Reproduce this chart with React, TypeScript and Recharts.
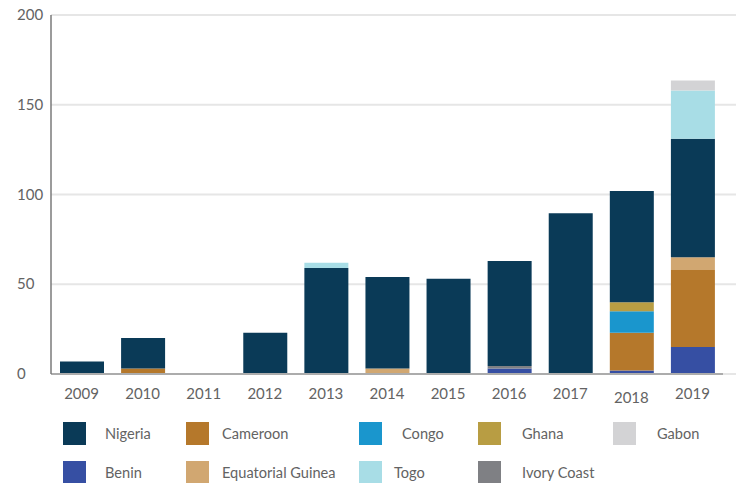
import { BarChart, Bar, XAxis, YAxis, CartesianGrid } from "recharts";

const years = ["2009", "2010", "2011", "2012", "2013", "2014", "2015", "2016", "2017", "2018", "2019"];

const benin = [0, 0, 0, 0, 0, 0, 0, 3, 0, 2, 15];
const ivoryCoast = [0, 0, 0.5, 0, 0, 0, 0, 1.5, 0, 0, 0];
const cameroon = [0, 3, 0, 0, 0, 0, 0, 0, 0, 21, 43];
const congo = [0, 0, 0, 0, 0, 0, 0, 0, 0, 12, 0];
const ghana = [0, 0, 0, 0, 0, 0, 0, 0, 0, 5, 0];
const eqGuinea = [0, 0, 0, 0, 0, 3, 0, 0, 0, 0, 7];
const nigeria = [7, 17, 0, 23, 59, 51, 53, 58.5, 89.5, 62, 66];
const togo = [0, 0, 0, 0, 3, 0, 0, 0, 0, 0, 27];
const gabon = [0, 0, 0, 0, 0, 0, 0, 0, 0, 0, 5.5];

const yTicks = [0, 50, 100, 150, 200];

// bottom-to-top stacking order
const series = [
  { key: "benin", name: "Benin", values: benin },
  { key: "ivoryCoast", name: "Ivory Coast", values: ivoryCoast },
  { key: "cameroon", name: "Cameroon", values: cameroon },
  { key: "congo", name: "Congo", values: congo },
  { key: "ghana", name: "Ghana", values: ghana },
  { key: "eqGuinea", name: "Equatorial Guinea", values: eqGuinea },
  { key: "nigeria", name: "Nigeria", values: nigeria },
  { key: "togo", name: "Togo", values: togo },
  { key: "gabon", name: "Gabon", values: gabon },
];

const colors: Record<string, string> = {
  nigeria: "#0a3a57",
  cameroon: "#b5782b",
  congo: "#1a96cd",
  ghana: "#b89d43",
  gabon: "#d3d3d5",
  benin: "#364fa3",
  eqGuinea: "#d1a771",
  togo: "#a8dde6",
  ivoryCoast: "#7f8084",
};

const legendRows = [
  ["nigeria", "cameroon", "congo", "ghana", "gabon"],
  ["benin", "eqGuinea", "togo", "ivoryCoast"],
];

const data = years.map((year, i) => {
  const row: Record<string, string | number> = { year };
  series.forEach((s) => {
    row[s.key] = s.values[i];
  });
  return row;
});

const font = "Lato, 'Open Sans', sans-serif";
const textColor = "#636363";

function YearTick(props: any) {
  const { x, y, payload } = props;
  // 2018 sits a little lower in the original
  const extra = payload.value === "2018" ? 4 : 0;
  return (
    <text
      x={x}
      y={y + 16.5 + extra}
      textAnchor="middle"
      fill={textColor}
      fontSize={15}
      fontFamily={font}
    >
      {payload.value}
    </text>
  );
}

// y labels are left-aligned in the original
function ValueTick(props: any) {
  const { y, payload } = props;
  return (
    <text
      x={17}
      y={y + 5}
      textAnchor="start"
      fill={textColor}
      fontSize={15}
      fontFamily={font}
    >
      {payload.value}
    </text>
  );
}

const squareX = [63, 186, 359, 478, 613];
const textX = [
  [105, 222, 402, 522, 657],
  [105, 222, 394, 522],
];
const rowTop = [422, 461];

function ChartLegend() {
  return (
    <>
      {legendRows.map((row, r) =>
        row.map((key, c) => {
          const s = series.find((d) => d.key === key)!;
          return (
            <div key={key}>
              <div
                style={{
                  position: "absolute",
                  left: squareX[c],
                  top: rowTop[r],
                  width: 23,
                  height: 23,
                  background: colors[key],
                }}
              />
              <div
                style={{
                  position: "absolute",
                  left: textX[r][c],
                  top: rowTop[r],
                  height: 23,
                  lineHeight: "23px",
                  fontSize: 14.6,
                  fontFamily: font,
                  color: textColor,
                  whiteSpace: "nowrap",
                }}
              >
                {s.name}
              </div>
            </div>
          );
        })
      )}
    </>
  );
}

export default function App() {
  return (
    <div
      style={{
        position: "absolute",
        left: 0,
        top: 0,
        width: 736,
        height: 483,
        background: "#fff",
        overflow: "hidden",
      }}
    >
      <BarChart
        width={736}
        height={420}
        data={data}
        margin={{ top: 15, right: 13, bottom: 16, left: 0 }}
        barSize={44}
      >
        <CartesianGrid
          vertical={false}
          horizontal={(p: any) => (
            <line
              key={`grid-${p.index}-${p.y1}`}
              x1={p.x1}
              y1={p.y1}
              x2={p.x2 + 13}
              y2={p.y2}
              stroke="#e6e6e6"
              strokeWidth={2}
            />
          )}
        />
        <XAxis
          dataKey="year"
          height={30}
          tickLine={false}
          axisLine={{ stroke: "#acacac", strokeWidth: 2 }}
          tick={<YearTick />}
          interval={0}
        />
        <YAxis
          width={51}
          domain={[0, 200]}
          ticks={yTicks}
          tickLine={false}
          axisLine={{ stroke: "#7a7a7a", strokeWidth: 1.5 }}
          tick={<ValueTick />}
          interval={0}
        />
        {series.map((s) => (
          <Bar
            key={s.key}
            dataKey={s.key}
            name={s.name}
            stackId="a"
            fill={colors[s.key]}
            isAnimationActive={false}
          />
        ))}
      </BarChart>
      <ChartLegend />
    </div>
  );
}
